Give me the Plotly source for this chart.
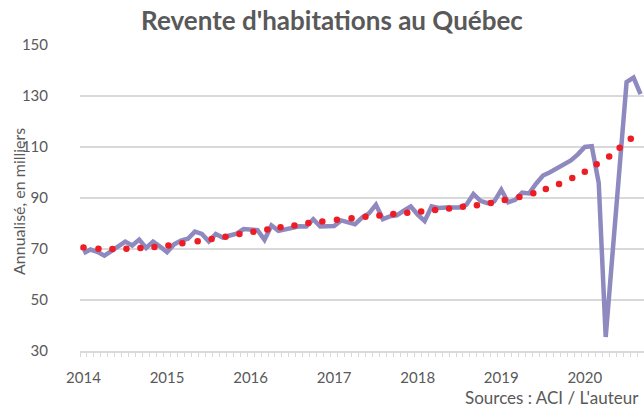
import plotly.graph_objects as go

# Monthly index (0 = Jan 2014) and annualised resales (thousands)
months = list(range(81))
resales = [
    68.3, 69.8, 68.9, 67.4, 69.2, 71.0, 72.9, 71.4, 73.7, 70.4, 72.9, 71.0,
    68.8, 71.8, 73.3, 74.0, 76.8, 75.9, 73.0, 75.9, 74.5, 75.3, 76.0, 77.8,
    77.8, 77.4, 73.6, 79.2, 77.1, 77.7, 78.6, 78.9, 78.8, 81.7, 78.8, 79.0,
    79.0, 81.2, 80.4, 79.7, 82.3, 84.0, 87.4, 81.7, 82.8, 83.2, 85.0, 86.7,
    83.5, 81.0, 86.7, 86.1, 86.3, 86.3, 86.3, 87.4, 91.6, 88.9, 88.0, 88.7,
    93.2, 88.3, 89.3, 92.1, 91.8, 95.6, 98.8, 100.1, 101.7, 103.0, 104.7, 107.1,
    110.0, 110.3, 95.9, 35.5, 68.0, 102.0, 135.5, 137.2, 130.7,
]

# Trend line (dotted)
trend_months = [
    0, 2.15, 4.16, 6.17, 8.18, 10.19, 12.2, 14.2, 16.4, 18.4, 20.4, 22.4, 24.4,
    26.4, 28.3, 30.3, 32.3, 34.3, 36.4, 38.5, 40.5, 42.5, 44.5, 46.5, 48.5, 50.5,
    52.5, 54.5, 56.5, 58.5, 60.5, 62.6, 64.6, 66.4, 68.3, 70.2, 72.0, 73.7, 75.5,
    77.0, 78.6,
]
trend_values = [
    70.6, 70.1, 70.0, 70.1, 70.4, 70.8, 71.4, 72.3, 73.0, 73.9, 74.8, 75.9, 76.8,
    77.6, 78.5, 79.2, 80.2, 80.8, 81.5, 82.1, 82.6, 83.1, 83.7, 84.2, 84.7, 85.3,
    85.9, 86.6, 87.2, 88.0, 89.2, 90.4, 91.9, 93.5, 95.5, 97.8, 100.3, 103.2, 106.3,
    109.7, 113.2,
]

year_ticks = [0, 12, 24, 36, 48, 60, 72]
year_labels = ["2014", "2015", "2016", "2017", "2018", "2019", "2020"]
y_ticks = [30, 50, 70, 90, 110, 130, 150]

FONT = "Lato"
TXT = "#595959"

fig = go.Figure()
fig.add_trace(go.Scatter(
    x=months, y=resales, mode="lines",
    line=dict(color="#8e8abf", width=4.5),
    showlegend=False, hoverinfo="skip",
))
fig.add_trace(go.Scatter(
    x=trend_months, y=trend_values, mode="markers",
    marker=dict(color="#ee1c24", size=6.5, line=dict(width=0)),
    showlegend=False, hoverinfo="skip",
))

fig.update_layout(
    width=644, height=409,
    margin=dict(l=80, r=0, t=45, b=58, autoexpand=False),
    paper_bgcolor="white", plot_bgcolor="white",
    font=dict(family=FONT, color=TXT, size=15),
    title=dict(
        text="<b>Revente d'habitations au Québec</b>",
        x=332 / 644, xref="container", xanchor="center",
        y=1 - 21 / 409, yref="container", yanchor="middle",
        font=dict(family=FONT, size=26, color=TXT),
    ),
    xaxis=dict(
        range=[-0.5, 80.5], tickmode="array", tickvals=year_ticks, ticktext=year_labels,
        showgrid=False, zeroline=False, showline=True, linecolor="#d9d9d9", linewidth=1.5,
        ticks="", tickfont=dict(size=15, color=TXT), ticklabelstandoff=12,
        minor=dict(ticks="outside", ticklen=4, tickcolor="#d9d9d9", tickwidth=1,
                   dtick=1, tick0=0.5, showgrid=False),
    ),
    yaxis=dict(
        range=[30, 150], tickmode="array", tickvals=y_ticks,
        showgrid=True, gridcolor="#d9d9d9", gridwidth=1.5, zeroline=False,
        showline=False, ticks="", tickfont=dict(size=15, color=TXT),
        ticklabelstandoff=31,
    ),
    annotations=[
        dict(
            text="Annualisé, en milliers", xref="paper", yref="paper",
            x=(18 - 80) / 564, y=(351 - 202) / 306, xanchor="center", yanchor="middle",
            textangle=-90, showarrow=False, font=dict(size=16, color=TXT),
        ),
        dict(
            text="Sources : ACI / L'auteur", xref="paper", yref="paper",
            x=(641 - 80) / 564, y=(351 - 397) / 306, xanchor="right", yanchor="middle",
            showarrow=False, font=dict(size=17, color=TXT),
        ),
    ],
)

fig.write_html(
    "out.html",
    config={"displayModeBar": False},
    post_script="document.body.style.margin='0';",
)
